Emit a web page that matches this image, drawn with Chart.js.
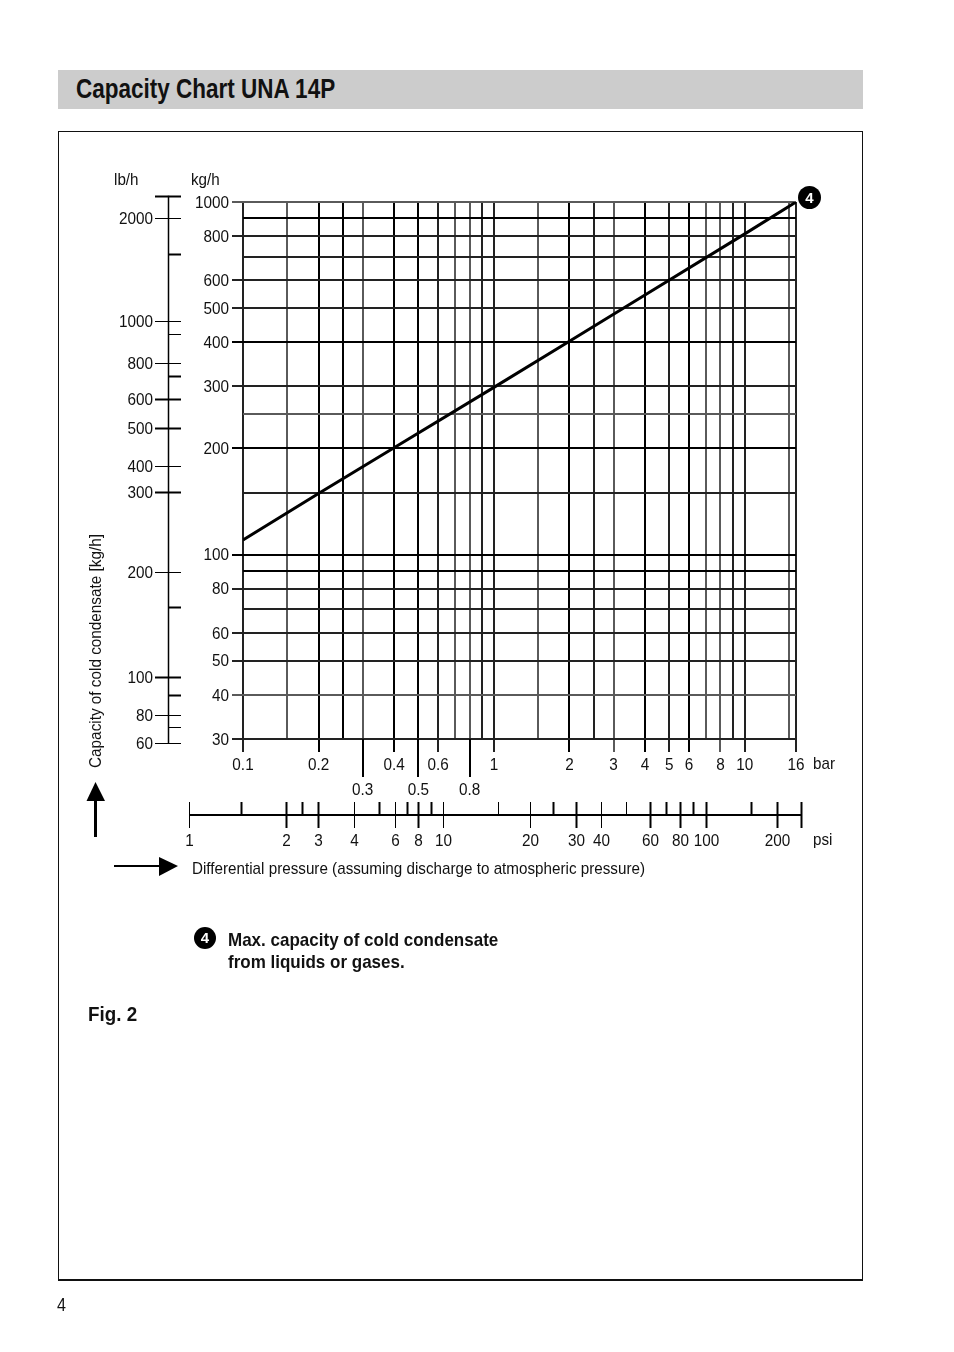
<!DOCTYPE html>
<html>
<head>
<meta charset="utf-8">
<title>Capacity Chart UNA 14P</title>
<script src="https://cdn.jsdelivr.net/npm/chart.js@4/dist/chart.umd.min.js"></script>
<style>
  html, body { margin: 0; padding: 0; background: #fff; }
  body { position: relative; width: 954px; height: 1352px; overflow: hidden; color: #111;
         font-family: "Liberation Sans", sans-serif; }
  #Chart { position: absolute; left: 0; top: 0; }
  .txt { position: absolute; white-space: nowrap; font-size: 17px; line-height: 20px;
         transform: scaleX(0.895); transform-origin: left center; }
  .bold { font-weight: bold; }
  #TitleBar { position: absolute; left: 58px; top: 70px; width: 805px; height: 39px; background: #ccc; }
  #TitleBar span { position: absolute; left: 18px; top: 3px; font-size: 27px; line-height: 32px; font-weight: bold;
                   white-space: nowrap; transform: scaleX(0.833); transform-origin: left center; }
  #Frame { position: absolute; left: 58px; top: 131px; width: 803px; height: 1147px;
           border: 1px solid #111; border-bottom-width: 2px; }
  .badge { position: absolute; width: 23px; height: 23px; border-radius: 50%; background: #000; color: #fff;
           font: bold 15px/23px "Liberation Sans", sans-serif; text-align: center; }
  #Arrows { position: absolute; left: 0; top: 0; }
</style>
</head>
<body>
<div id="TitleBar"><span>Capacity Chart UNA 14P</span></div>
<div id="Frame"></div>
<canvas id="Chart" width="954" height="1352"></canvas>
<svg id="Arrows" width="954" height="1352">
  <rect x="94" y="798" width="3" height="39" fill="#000"/>
  <polygon points="95.5,782 105,801 86.5,801" fill="#000"/>
  <rect x="114" y="865" width="46" height="2" fill="#000"/>
  <polygon points="178,866 159,857 159,876" fill="#000"/>
</svg>
<span class="txt" style="left:114px;top:170px">lb/h</span>
<span class="txt" style="left:191px;top:170px">kg/h</span>
<span class="txt" style="left:813px;top:754px">bar</span>
<span class="txt" style="left:813px;top:830px">psi</span>
<span class="txt" style="left:96px;top:651px;transform:translate(-50%,-50%) rotate(-90deg) scaleX(0.9);transform-origin:center">Capacity of cold condensate [kg/h]</span>
<span class="txt" style="left:192px;top:859px">Differential pressure (assuming discharge to atmospheric pressure)</span>
<div class="badge" style="left:798px;top:186px">4</div>
<div class="badge" style="left:194px;top:927px;width:22px;height:22px;line-height:22px">4</div>
<span class="txt bold" style="left:228px;top:930px;font-size:19px">Max. capacity of cold condensate</span>
<span class="txt bold" style="left:228px;top:952px;font-size:19px">from liquids or gases.</span>
<span class="txt bold" style="left:88px;top:1004px;font-size:21px">Fig. 2</span>
<span class="txt" style="left:57px;top:1295px;font-size:18px">4</span>

<script>
// main curve
const pressureBar = [0.1, 0.2, 0.4, 1, 2, 4, 10, 16];
const capacityKg = [110, 149, 201, 298, 403, 545, 812, 1000];

// grid values
const barGrid = [0.1, 0.15, 0.2, 0.25, 0.3, 0.4, 0.5, 0.6, 0.7, 0.8, 0.9, 1, 1.5, 2, 2.5, 3, 4, 5, 6, 7, 8, 9, 10, 15, 16];
const barLabels = [0.1, 0.2, 0.4, 0.6, 1, 2, 3, 4, 5, 6, 8, 10, 16];
const barLowLabels = [0.3, 0.5, 0.8];
const kgGrid = [30, 40, 50, 60, 70, 80, 90, 100, 150, 200, 250, 300, 400, 500, 600, 700, 800, 900, 1000];
const kgLabels = [30, 40, 50, 60, 80, 100, 200, 300, 400, 500, 600, 800, 1000];

// lb/h ruler: the printed marks do not sit on a clean log scale, so each one is read as a kg/h value
const lbMarksKg = [1042, 899, 712, 459, 422, 349, 322, 277, 229, 178, 151, 89, 71, 45, 40, 35, 32.4, 29.2];
const lbLabels = ['', '2000', '', '1000', '', '800', '', '600', '500', '400', '300', '200', '', '100', '', '80', '', '60'];

// psi ruler: same thing, each mark read as a bar value
const psiMarksBar = [0.0611, 0.0982, 0.1484, 0.1719, 0.199, 0.276, 0.348, 0.405, 0.45, 0.498, 0.561, 0.628, 1.041, 1.396, 1.72, 2.12, 2.67, 3.35, 4.19, 4.85, 5.52, 6.22, 7.0, 10.6, 13.4, 16.75];
const psiLabels = ['1', '', '2', '', '3', '4', '', '6', '', '8', '', '10', '', '20', '', '30', '40', '', '60', '', '80', '', '100', '', '200', ' '];

// line looks
const xBlack = [0.2, 0.25, 0.4, 0.5, 2, 4, 6];
const xGrey = [0.15, 0.3, 0.7, 0.8, 1.5, 3, 7, 8, 15];
const yBlack = [100, 90, 200, 400, 900];
const yGrey = [1000, 250, 40];
const lbThick = [0, 2, 6, 7, 8, 10, 12, 13, 14];
const psiThin = [0, 5, 7, 11, 12, 13, 16, 17];

const labelFont = '17px "Liberation Sans", sans-serif';
const labelSqueeze = 0.9;

function gridColor(v, black, grey) {
    if (black.includes(v)) return "#000";
    if (grey.includes(v)) return "#5a5a5a";
    return "#222";
}

function line(ctx, x1, y1, x2, y2) {
    ctx.beginPath();
    ctx.moveTo(x1, y1);
    ctx.lineTo(x2, y2);
    ctx.stroke();
}

// no condensed face is installed, so the labels get squeezed by hand
function label(ctx, text, x, y) {
    ctx.save();
    ctx.translate(x, y);
    ctx.scale(labelSqueeze, 1);
    ctx.fillText(text, 0, 0);
    ctx.restore();
}

const rulers = {
    id: "rulers",
    afterDraw(chart) {
        const ctx = chart.ctx;
        const x = chart.scales.x;
        const y = chart.scales.y;
        ctx.save();
        ctx.strokeStyle = "#000";
        ctx.fillStyle = "#111";
        ctx.font = labelFont;
        ctx.textBaseline = "middle";

        // tick labels of the two main scales
        ctx.textAlign = "right";
        y.ticks.forEach(t => {
            if (t.label) label(ctx, t.label, 229, y.getPixelForValue(t.value) + 1);
        });
        ctx.textAlign = "center";
        x.ticks.forEach(t => {
            if (t.label) label(ctx, t.label, x.getPixelForValue(t.value), barLowLabels.includes(t.value) ? 790 : 765);
        });

        // long ticks under the chart for the second row of bar labels
        ctx.lineWidth = 2;
        barLowLabels.forEach(v => {
            const px = Math.round(x.getPixelForValue(v));
            line(ctx, px, chart.chartArea.bottom, px, 777);
        });

        // lb/h ruler
        const top = y.getPixelForValue(lbMarksKg[0]);
        const bottom = y.getPixelForValue(lbMarksKg[lbMarksKg.length - 1]);
        ctx.lineWidth = 1.5;
        line(ctx, 168.5, top, 168.5, bottom);
        ctx.textAlign = "right";
        lbMarksKg.forEach((kg, i) => {
            const py = Math.round(y.getPixelForValue(kg)) + 0.5;
            const hasLeft = lbLabels[i] !== "" || i === 0;
            ctx.lineWidth = lbThick.includes(i) ? 2 : 1;
            line(ctx, hasLeft ? 155 : 168, py, 181, py);
            if (lbLabels[i]) label(ctx, lbLabels[i], 153, py + 1);
        });

        // psi ruler
        ctx.lineWidth = 2;
        line(ctx, x.getPixelForValue(psiMarksBar[0]), 815, x.getPixelForValue(psiMarksBar[psiMarksBar.length - 1]), 815);
        ctx.textAlign = "center";
        psiMarksBar.forEach((bar, i) => {
            const px = Math.round(x.getPixelForValue(bar)) + 0.5;
            ctx.lineWidth = psiThin.includes(i) ? 1 : 2;
            line(ctx, px, 802, px, psiLabels[i] !== "" ? 828 : 815);
            if (psiLabels[i].trim()) label(ctx, psiLabels[i], px, 841);
        });
        ctx.restore();
    }
};

new Chart("Chart", {
    type: "scatter",
    plugins: [rulers],
    data: {
        datasets: [{
            data: pressureBar.map((p, i) => ({ x: p, y: capacityKg[i] })),
            showLine: true,
            borderColor: "#000",
            borderWidth: 3,
            pointRadius: 0
        }]
    },
    options: {
        responsive: false,
        animation: false,
        layout: { padding: { left: 193, top: 202, right: 158, bottom: 553 } },
        plugins: { legend: { display: false }, tooltip: { enabled: false } },
        scales: {
            x: {
                type: "logarithmic",
                min: 0.1,
                max: 16,
                afterFit: s => { s.height = 60; },
                afterBuildTicks: s => { s.ticks = barGrid.map(v => ({ value: v })); },
                border: { display: false },
                grid: {
                    tickLength: 13,
                    color: c => gridColor(c.tick.value, xBlack, xGrey),
                    lineWidth: 2,
                    tickColor: c => (barLabels.includes(c.tick.value) ? gridColor(c.tick.value, xBlack, xGrey) : "rgba(0,0,0,0)")
                },
                ticks: {
                    display: false,
                    autoSkip: false,
                    callback: v => (barLabels.includes(v) || barLowLabels.includes(v) ? String(v) : "")
                }
            },
            y: {
                type: "logarithmic",
                min: 30,
                max: 1000,
                afterFit: s => { s.width = 50; },
                afterBuildTicks: s => { s.ticks = kgGrid.map(v => ({ value: v })); },
                border: { display: false },
                grid: {
                    tickLength: 11,
                    color: c => gridColor(c.tick.value, yBlack, yGrey),
                    lineWidth: 2,
                    tickColor: c => (kgLabels.includes(c.tick.value) ? gridColor(c.tick.value, yBlack, yGrey) : "rgba(0,0,0,0)")
                },
                ticks: {
                    display: false,
                    autoSkip: false,
                    callback: v => (kgLabels.includes(v) ? String(v) : "")
                }
            }
        }
    }
});
</script>
</body>
</html>
